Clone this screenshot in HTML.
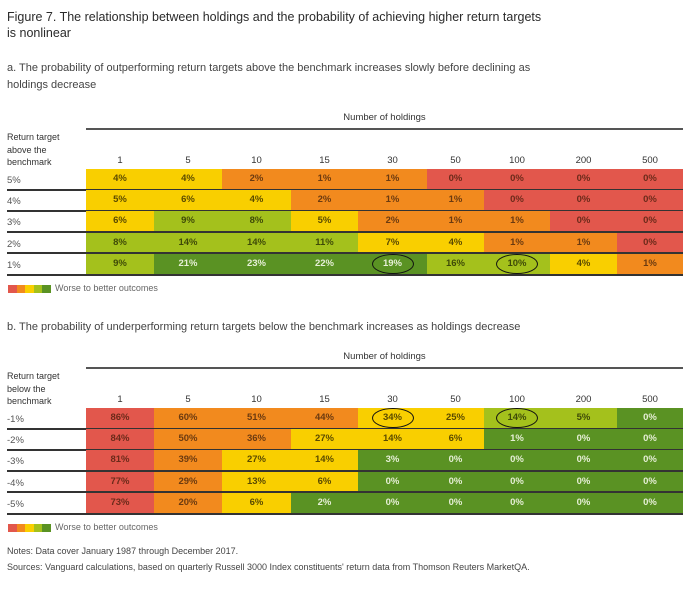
<!DOCTYPE html>
<html><head><meta charset="utf-8">
<style>
body{margin:0;background:#fff;font-family:"Liberation Sans",sans-serif;}
#root{position:relative;width:700px;height:590px;overflow:hidden;background:#fff;}
.t{position:absolute;white-space:nowrap;color:#333;}
</style></head>
<body>
<div id="root">
<div class="t" style="left:7px;top:9px;font-size:12.5px;line-height:16px;color:#2a2a2a">Figure 7. The relationship between holdings and the probability of achieving higher return targets<br>is nonlinear</div>
<div class="t" style="left:7px;top:60px;font-size:11px;line-height:17px;color:#444">a. The probability of outperforming return targets above the benchmark increases slowly before declining as<br>holdings decrease</div>
<div class="t" style="left:7px;top:321px;font-size:11px;color:#444">b. The probability of underperforming return targets below the benchmark increases as holdings decrease</div>
<div class="t" style="left:7px;top:546px;font-size:9px;color:#444">Notes: Data cover January 1987 through December 2017.</div>
<div class="t" style="left:7px;top:562px;font-size:9px;color:#444">Sources: Vanguard calculations, based on quarterly Russell 3000 Index constituents' return data from Thomson Reuters MarketQA.</div>
</div>
<script>
const holdings=["1","5","10","15","30","50","100","200","500"];
const rowsA=["5%","4%","3%","2%","1%"];
const valuesA=[[4,4,2,1,1,0,0,0,0],[5,6,4,2,1,1,0,0,0],[6,9,8,5,2,1,1,0,0],[8,14,14,11,7,4,1,1,0],[9,21,23,22,19,16,10,4,1]];
const tiersA=["YYOOORRRR","YYYOOORRR","YLLYOOORR","LLLLYYOOR","LGGGGLLYO"];
const circlesA=[[4,4],[4,6]];
const rowsB=["-1%","-2%","-3%","-4%","-5%"];
const valuesB=[[86,60,51,44,34,25,14,5,0],[84,50,36,27,14,6,1,0,0],[81,39,27,14,3,0,0,0,0],[77,29,13,6,0,0,0,0,0],[73,20,6,2,0,0,0,0,0]];
const tiersB=["ROOOYYLLG","ROOYYYGGG","ROYYGGGGG","ROYYGGGGG","ROYGGGGGG"];
const circlesB=[[0,4],[0,6]];

const colEdges=[86,154,222,291,358,427,484,550,617,683];
const COL={R:"#e2574c",O:"#f28a1e",Y:"#f9cf00",L:"#a4c11c",G:"#5a9223"};
const TXT={R:"#6b2a1a",O:"#6b3a10",Y:"#5a4a00",L:"#3e4a08",G:"#e6efd6"};
const root=document.getElementById('root');
function div(css,text){const d=document.createElement('div');d.style.cssText="position:absolute;"+css;if(text!==undefined)d.textContent=text;root.appendChild(d);return d;}

function table(p,rows,vals,tiers,circles,top,ylabel){
  const lineY=top+10, headY=top+42, rowTop=top+51, rh=21.2;
  let d=div("left:"+(colEdges[0])+"px;width:"+(colEdges[9]-colEdges[0])+"px;top:"+(top-6)+"px;text-align:center;font-size:9.5px;color:#333","Number of holdings");
  
  d=div("left:"+colEdges[0]+"px;width:"+(colEdges[9]-colEdges[0])+"px;top:"+lineY+"px;height:2px;background:#555");
  
  d=div("left:7px;top:"+(top+13)+"px;font-size:9px;line-height:12.5px;color:#333");d.innerHTML=ylabel;
  
  holdings.forEach((h,j)=>{
    const e=div("left:"+colEdges[j]+"px;width:"+(colEdges[j+1]-colEdges[j])+"px;top:"+(headY-5)+"px;text-align:center;font-size:9.5px;color:#333",h);
    
  });
  rows.forEach((r,i)=>{
    const y=rowTop+i*rh;
    let e=div("left:7px;top:"+(y+6)+"px;font-size:9.5px;color:#555",r);
    
    vals[i].forEach((v,j)=>{
      const t=tiers[i][j];
      const c=div("left:"+colEdges[j]+"px;width:"+(colEdges[j+1]-colEdges[j])+"px;top:"+y+"px;height:"+(rh-1)+"px;background:"+COL[t]+";color:"+TXT[t]+";font-size:9.5px;font-weight:bold;text-align:center;line-height:"+(rh-1)+"px",v+"%");
      
      
    });
    e=div("left:7px;width:"+(colEdges[9]-7)+"px;top:"+(y+rh-1.5)+"px;height:2px;background:#333");
    
  });
  circles.forEach(([i,j])=>{
    const cx=(colEdges[j]+colEdges[j+1])/2, cy=rowTop+i*rh+rh/2-0.5;
    const e=div("left:"+(cx-21)+"px;top:"+(cy-10)+"px;width:40px;height:18px;border:1.5px solid #111;border-radius:50%");
    
  });
  const ly=rowTop+5*rh+10;
  ["#e2574c","#f28a1e","#f9cf00","#a4c11c","#5a9223"].forEach((c,k)=>{
    const e=div("left:"+(8+k*8.5)+"px;top:"+ly+"px;width:9px;height:8px;background:"+c);
    
  });
  const e=div("left:55px;top:"+(ly-2)+"px;font-size:9px;color:#666","Worse to better outcomes");
  
}
table('panel-a',rowsA,valuesA,tiersA,circlesA,118,"Return target<br>above the<br>benchmark");
table('panel-b',rowsB,valuesB,tiersB,circlesB,357,"Return target<br>below the<br>benchmark");
</script>
</body></html>
